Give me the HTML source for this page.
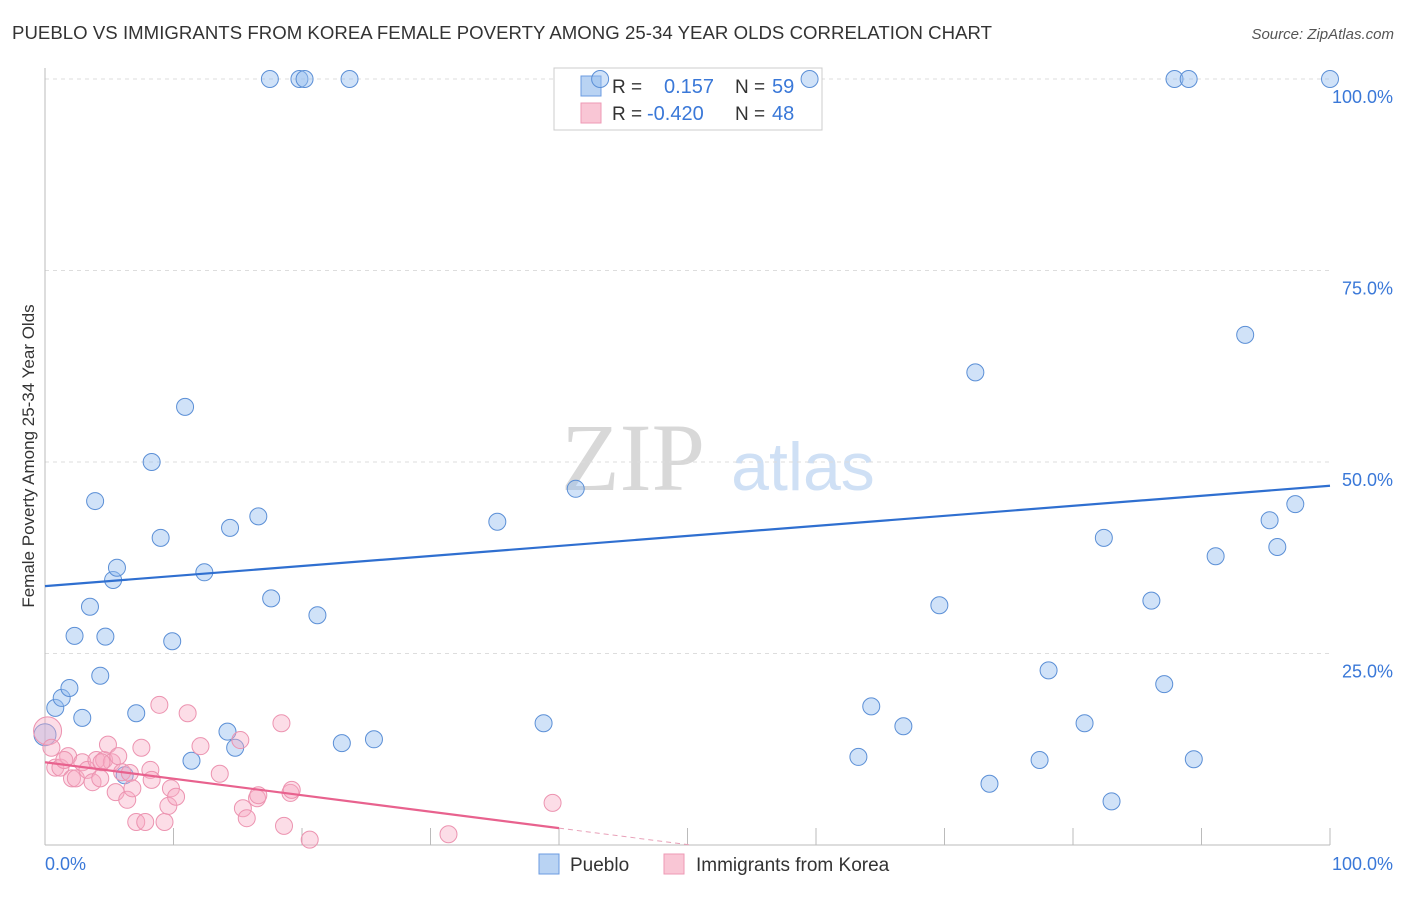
<!DOCTYPE html>
<html><head><meta charset="utf-8"><style>
body{margin:0;background:#fff;font-family:"Liberation Sans",sans-serif;}
</style></head><body>
<svg width="1406" height="892" xmlns="http://www.w3.org/2000/svg">
<text x="12" y="39" font-size="18.6" fill="#333" textLength="980">PUEBLO VS IMMIGRANTS FROM KOREA FEMALE POVERTY AMONG 25-34 YEAR OLDS CORRELATION CHART</text>
<text x="1394" y="39" font-size="15" fill="#555" font-style="italic" text-anchor="end">Source: ZipAtlas.com</text>
<text x="633" y="490" font-size="96" fill="#d8d8d8" font-family="Liberation Serif,serif" text-anchor="middle">ZIP</text>
<text x="803" y="490" font-size="68" fill="#cfe0f5" text-anchor="middle">atlas</text>
<g id="grid"></g>
<line x1="45" y1="68" x2="45" y2="845" stroke="#bbb"/>
<line x1="45" y1="845" x2="1330" y2="845" stroke="#bbb"/>
<g id="ticks"></g>
<text transform="translate(34,456) rotate(-90)" font-size="17" fill="#333" text-anchor="middle">Female Poverty Among 25-34 Year Olds</text>
<text x="45" y="870" font-size="18" fill="#3a78d8">0.0%</text>
<text x="1393" y="870" font-size="18" fill="#3a78d8" text-anchor="end">100.0%</text>
<g>
<rect x="554" y="68" width="268" height="62" fill="#fff" stroke="#ccc"/>
<rect x="581" y="76" width="20" height="20" fill="#b9d3f3" stroke="#6b9be0"/>
<rect x="581" y="103" width="20" height="20" fill="#f9c6d5" stroke="#ee99b5"/>
<text x="612" y="93" font-size="19" fill="#333">R = </text><text x="664" y="93" font-size="20" fill="#3a78d8">0.157</text>
<text x="735" y="93" font-size="19" fill="#333">N = </text><text x="772" y="93" font-size="20" fill="#3a78d8">59</text>
<text x="612" y="120" font-size="19" fill="#333">R = </text><text x="647" y="120" font-size="20" fill="#3a78d8">-0.420</text>
<text x="735" y="120" font-size="19" fill="#333">N = </text><text x="772" y="120" font-size="20" fill="#3a78d8">48</text>
</g>
<g>
<rect x="539" y="854" width="20" height="20" fill="#b9d3f3" stroke="#6b9be0"/>
<text x="570" y="871" font-size="19" fill="#333">Pueblo</text>
<rect x="664" y="854" width="20" height="20" fill="#f9c6d5" stroke="#ee99b5"/>
<text x="696" y="871" font-size="19" fill="#333">Immigrants from Korea</text>
</g>
<g id="pts"></g>
<g id="lines"></g>
</svg>
<script>
const yTicks=[25,50,75,100];
const yTickLabels=["25.0%","50.0%","75.0%","100.0%"];
const xTicks=[10,20,30,40,50,60,70,80,90,100];
const blueX=[0,0.8,1.3,1.9,2.3,2.9,3.5,3.9,6.2,4.7,4.3,5.3,5.6,7.1,8.3,9.0,9.9,10.9,11.4,12.4,14.2,14.4,14.8,16.6,17.6,17.5,19.8,20.2,21.2,23.1,23.7,25.6,35.2,38.8,41.3,43.2,59.5,63.3,64.3,66.8,69.6,72.4,73.5,77.4,78.1,80.9,82.4,83.0,86.1,87.1,87.9,89.0,89.4,91.1,93.4,95.3,95.9,97.3,100];
const blueY=[14.4,17.9,19.2,20.5,27.3,16.6,31.1,44.9,9.1,27.2,22.1,34.6,36.2,17.2,50.0,40.1,26.6,57.2,11.0,35.6,14.8,41.4,12.7,42.9,32.2,100,100,100,30.0,13.3,100,13.8,42.2,15.9,46.5,100,100,11.5,18.1,15.5,31.3,61.7,8.0,11.1,22.8,15.9,40.1,5.7,31.9,21.0,100,100,11.2,37.7,66.6,42.4,38.9,44.5,100];
const pinkX=[0.2,0.5,0.8,1.2,1.8,2.1,2.4,2.9,3.3,3.7,4.0,4.3,4.6,4.9,5.2,5.5,5.7,6.0,6.4,6.6,6.8,7.1,7.5,7.8,8.2,8.3,8.9,9.3,9.6,9.8,10.2,11.1,12.1,13.6,15.2,15.4,15.7,16.5,16.6,18.4,18.6,19.1,19.2,20.6,31.4,39.5,4.4,1.5];
const pinkY=[14.9,12.7,10.1,10.1,11.6,8.7,8.7,10.8,9.8,8.2,11.1,8.7,11.1,13.1,10.8,6.9,11.6,9.5,5.9,9.4,7.4,3.0,12.7,3.0,9.8,8.5,18.3,3.0,5.1,7.4,6.3,17.2,12.9,9.3,13.7,4.8,3.5,6.1,6.5,15.9,2.5,6.8,7.2,0.7,1.4,5.5,10.8,11.1];
const blueTrend=[33.8,46.9];
const pinkTrend=[10.8,-0.215];
const NS="http://www.w3.org/2000/svg";
const X=v=>45+v*12.85, Y=v=>845-v*7.66;
function mk(t,a,p){const e=document.createElementNS(NS,t);for(const k in a)e.setAttribute(k,a[k]);document.getElementById(p).appendChild(e);return e;}
yTicks.forEach((t,i)=>{
 const g=mk('line',{x1:45,x2:1330,y1:Y(t),y2:Y(t),stroke:'#ddd','stroke-dasharray':'4,4'},'grid');
 
 
 const l=mk('text',{x:1393,y:Y(t)+24,'font-size':18,fill:'#3a78d8','text-anchor':'end','font-family':'Liberation Sans'},'grid');
 l.textContent=yTickLabels[i];
 
 
});
xTicks.forEach(t=>{
 const e=mk('line',{x1:X(t),x2:X(t),y1:828,y2:845,stroke:'#bbb'},'ticks');
 
 
});
blueX.forEach((x,i)=>{
 const c=mk('circle',{cx:X(x),cy:Y(blueY[i]),r:i===0?11:8.5,fill:'rgba(150,190,240,0.45)',stroke:'#5b8fd6','stroke-width':1},'pts');
 
 
});
pinkX.forEach((x,i)=>{
 const c=mk('circle',{cx:X(x),cy:Y(pinkY[i]),r:i===0?14:8.5,fill:'rgba(247,170,195,0.4)',stroke:'#ec93b0','stroke-width':1},'pts');
 
 
});
let e=mk('line',{x1:X(0),y1:Y(blueTrend[0]),x2:X(100),y2:Y(blueTrend[1]),stroke:'#2f6fd0','stroke-width':2.2},'lines');


const pz=-pinkTrend[0]/pinkTrend[1];
e=mk('line',{x1:X(0),y1:Y(pinkTrend[0]),x2:X(40),y2:Y(pinkTrend[0]+pinkTrend[1]*40),stroke:'#e8628e','stroke-width':2.2},'lines');


e=mk('line',{x1:X(40),y1:Y(pinkTrend[0]+pinkTrend[1]*40),x2:X(pz),y2:Y(0),stroke:'#e8a0b8','stroke-width':1,'stroke-dasharray':'5,4'},'lines');


</script>
</body></html>
